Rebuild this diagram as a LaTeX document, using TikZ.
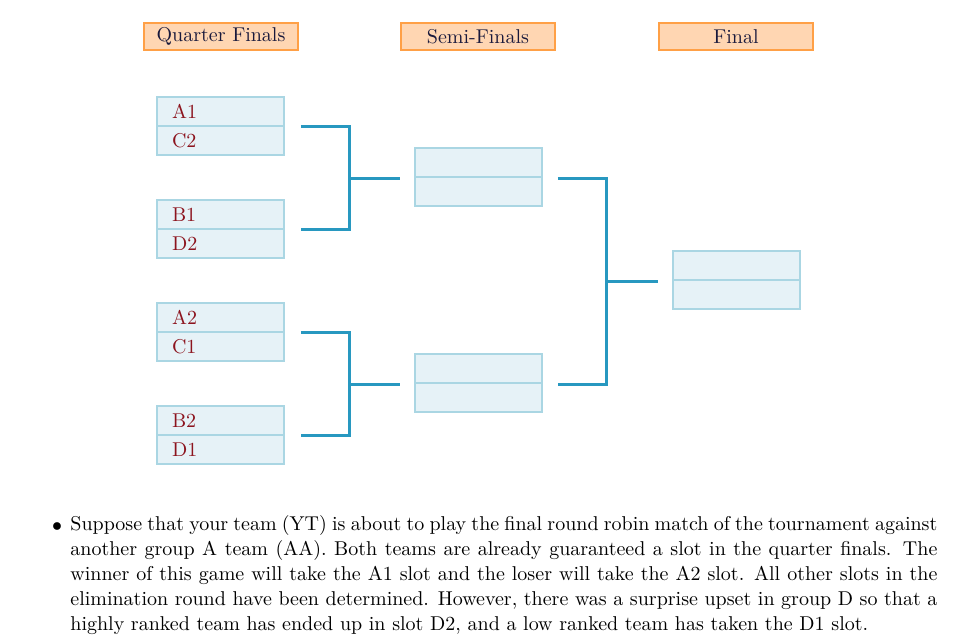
\documentclass[tikz,border=0pt]{standalone}
\usetikzlibrary{calc}
\definecolor{hdrfill}{RGB}{255,214,178}
\definecolor{hdrdraw}{RGB}{255,160,70}
\definecolor{hdrtext}{RGB}{25,25,60}
\definecolor{boxfill}{RGB}{230,242,247}
\definecolor{boxdraw}{RGB}{170,214,227}
\definecolor{teamtext}{RGB}{140,20,30}
\definecolor{linkcol}{RGB}{40,152,192}
\begin{document}
\begin{tikzpicture}[x=0.5pt,y=-0.5pt,
  hdr/.style={draw=hdrdraw, fill=hdrfill, line width=0.6pt, minimum width=77pt,
    minimum height=13.5pt, inner sep=0pt, text=hdrtext, font=\fontsize{10}{12}\selectfont},
  slot/.style={draw=boxdraw, fill=boxfill, line width=0.8pt, inner xsep=7.5pt, inner ysep=0pt,
    text width=48.5pt, minimum height=14.5pt, align=left, text=teamtext,
    font=\fontsize{10}{12}\selectfont},
  link/.style={draw=linkcol, line width=1.5pt},
  body/.style={inner sep=0pt, text width=433.5pt, align=justify, font=\fontsize{10}{12.5}\selectfont}
]
\useasboundingbox (0,0) rectangle (969,641);

% headers
\node[hdr] (hq) at (221,36.5) {Quarter Finals};
\node[hdr] (hs) at (478,36.5) {Semi-Finals};
\node[hdr] (hf) at (736,36.5) {Final};

% quarter final slots
\node[slot] (A1) at (220.5,111.5) {A1};
\node[slot] (C2) at (220.5,140.5) {C2};
\node[slot] (B1) at (220.5,214.5) {B1};
\node[slot] (D2) at (220.5,243.5) {D2};
\node[slot] (A2) at (220.5,317.5) {A2};
\node[slot] (C1) at (220.5,346.5) {C1};
\node[slot] (B2) at (220.5,420.5) {B2};
\node[slot] (D1) at (220.5,449.5) {D1};

% semi final slots
\node[slot] (S1a) at (478.5,162.75) {};
\node[slot] (S1b) at (478.5,191.75) {};
\node[slot] (S2a) at (478.5,368.75) {};
\node[slot] (S2b) at (478.5,397.75) {};

% final slots
\node[slot] (Fa) at (736.5,265.75) {};
\node[slot] (Fb) at (736.5,294.75) {};

% junctions
\path (S1a.south west) ++(-65,0) coordinate (j1);
\path (S2a.south west) ++(-65,0) coordinate (j2);
\path (Fa.south west) ++(-66,0) coordinate (j3);

% connectors
\draw[link] ([xshift=8pt]A1.south east) -| (j1) |- ([xshift=8pt]B1.south east);
\draw[link] (j1) -- ([xshift=-7pt]S1a.south west);
\draw[link] ([xshift=8pt]A2.south east) -| (j2) |- ([xshift=8pt]B2.south east);
\draw[link] (j2) -- ([xshift=-7pt]S2a.south west);
\draw[link] ([xshift=7.5pt]S1a.south east) -| (j3) |- ([xshift=7.5pt]S2a.south east);
\draw[link] (j3) -- ([xshift=-7pt]Fa.south west);

% text
\node[inner sep=0pt, anchor=base, font=\fontsize{10}{12.5}\selectfont] (bul) at (57,531) {$\bullet$};
\node[body, anchor=north west] (txt) at (70,515) {Suppose that your team (YT) is about to play the final round robin match of the tournament against\linebreak
another group A team (AA). Both teams are already guaranteed a slot in the quarter finals. The\linebreak
winner of this game will take the A1 slot and the loser will take the A2 slot. All other slots in the\linebreak
elimination round have been determined. However, there was a surprise upset in group D so that a\linebreak
highly ranked team has ended up in slot D2, and a low ranked team has taken the D1 slot.};
\end{tikzpicture}
\end{document}
